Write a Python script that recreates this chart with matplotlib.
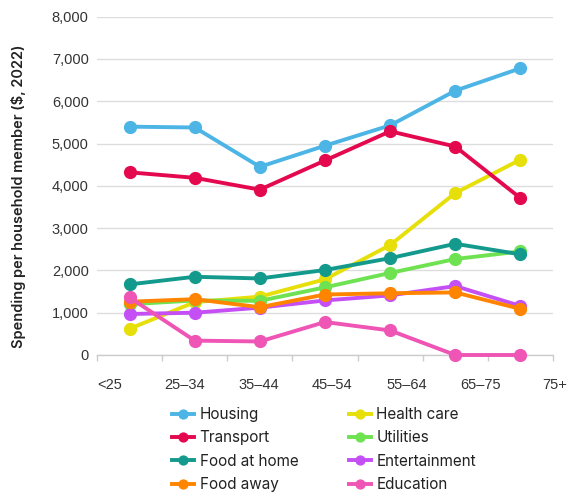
import matplotlib
matplotlib.use('Agg')
import matplotlib.pyplot as plt
import matplotlib.transforms as mtransforms
import numpy as np

ages = ["<25", "25\u201334", "35\u201344", "45\u201354", "55\u201364", "65\u201375", "75+"]

housing = [5400, 5380, 4450, 4950, 5430, 6250, 6780]
transport = [4320, 4190, 3910, 4600, 5290, 4930, 3710]
food_home = [1670, 1850, 1810, 2010, 2290, 2630, 2380]
food_away = [1260, 1320, 1130, 1430, 1460, 1480, 1090]
health = [620, 1250, 1380, 1790, 2600, 3830, 4620]
utilities = [1200, 1290, 1280, 1600, 1940, 2270, 2450]
entertainment = [970, 1000, 1120, 1290, 1410, 1630, 1160]
education = [1360, 340, 320, 780, 580, 0, 0]

series = [
	("Housing", housing, "#4cb5e6"),
	("Transport", transport, "#e4094f"),
	("Food at home", food_home, "#139a8c"),
	("Food away", food_away, "#ff8500"),
	("Health care", health, "#e6df0a"),
	("Utilities", utilities, "#6ee251"),
	("Entertainment", entertainment, "#c450f5"),
	("Education", education, "#ee55b5"),
]
# drawing order (front-most last)
zorder = {"Health care": 3, "Utilities": 4, "Entertainment": 5, "Food away": 6,
	"Food at home": 7, "Housing": 8, "Transport": 9, "Education": 10}

fig = plt.figure(figsize=(5.8, 4.93), dpi=100)
ax = fig.add_axes([97/580, 1-355/493, (553-97)/580, (355-16.7)/493])

x = np.arange(len(ages))
handles = []
for name, vals, col in series:
	h, = ax.plot(x, vals, color=col, lw=2.8, marker='o', ms=8.5,
		solid_joinstyle='round', label=name, zorder=zorder[name], clip_on=False)
	handles.append(h)

ax.set_xlim(-0.5, 6.5)
ax.set_ylim(0, 8000)
ax.set_yticks(np.arange(0, 8001, 1000))
ax.set_yticklabels(["{:,}".format(v) for v in range(0, 8001, 1000)],
	fontfamily='Liberation Sans', fontsize=10.5, color='#333333')
ax.tick_params(axis='y', length=0, pad=6)
ax.grid(axis='y', color='#dddddd', lw=1)
ax.set_axisbelow(True)
for s in ['top', 'right', 'left']:
	ax.spines[s].set_visible(False)
ax.spines['bottom'].set_color('#cccccc')
ax.spines['bottom'].set_linewidth(1)

# tick marks at the band edges
ax.set_xticks(np.arange(-0.5, 7, 1))
ax.set_xticklabels([])
ax.tick_params(axis='x', length=4.5, color='#cccccc', width=1)

# category labels (spaced wider than the bands, as in the source)
trans = mtransforms.blended_transform_factory(ax.transData, fig.transFigure)
for i, lab in enumerate(ages):
	ax.text(-0.3 + 1.138*i, 1-385/493, lab, transform=trans, ha='center', va='center',
		fontfamily='Liberation Sans', fontsize=10.5, color='#333333', clip_on=False)

ax.set_ylabel("Spending per household member ($, 2022)", fontfamily='Inter',
	fontsize=10.5, fontweight='semibold', color='#222222')
ax.yaxis.set_label_coords(-(97-26)/456, (355-196)/338.3)

fig.legend(handles, [s[0] for s in series],
	loc='upper left', bbox_to_anchor=(172/580, 1-407/493), ncol=2, frameon=False,
	prop={'family': 'Inter', 'size': 11}, handlelength=1.45, handletextpad=0.35,
	columnspacing=3.3, labelspacing=0.55, borderpad=0, borderaxespad=0, markerscale=0.75,
	labelcolor='#222222')

fig.savefig("out.png", dpi=100)
